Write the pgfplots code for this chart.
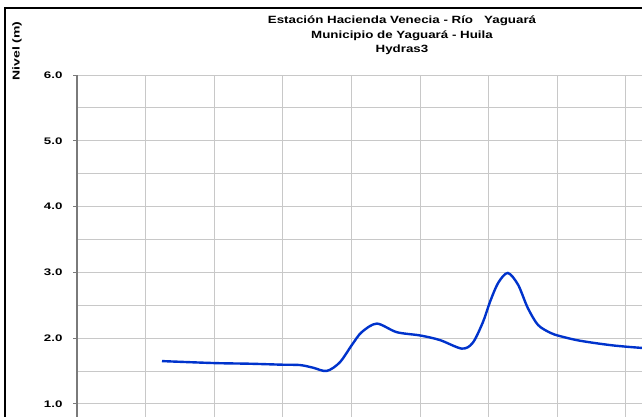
\documentclass[border=0pt]{standalone}
\usepackage{fontspec}
\setmainfont{Liberation Sans}
\usepackage{pgfplots}
\pgfplotsset{compat=1.18}
\definecolor{gridc}{HTML}{C8C8C8}
\definecolor{axc}{HTML}{7A7A7A}
\definecolor{linec}{HTML}{0033CC}
\begin{document}
\begin{tikzpicture}
\useasboundingbox (0,0) rectangle (642pt,417pt);
\begin{axis}[
  at={(77pt,0pt)}, anchor=south west,
  scale only axis, width=565pt, height=342pt,
  xmin=0, xmax=8.236, ymin=0.80, ymax=6.0,
  axis line style={draw=none},
  xtick={0,1,...,8}, xticklabels={}, x tick style={draw=none},
  ytick={1,2,...,6},
  minor ytick={0.5,1.5,...,5.5},
  grid=both,
  major grid style={gridc, line width=0.8pt},
  minor grid style={gridc, line width=0.8pt},
  ytick pos=left, tick align=outside,
  major tick length=4pt, minor tick length=0pt,
  y tick style={axc, line width=0.8pt},
  yticklabel style={font=\fontsize{9.5}{11}\selectfont\bfseries, xscale=1.4, /pgf/number format/fixed, /pgf/number format/fixed zerofill, /pgf/number format/precision=1, xshift=-4pt},
  /pgf/number format/assume math mode=true,
  clip=true,
]
\addplot[linec, line width=2.4pt, smooth, tension=0.5] coordinates {
(1.239,1.65) (2.0,1.62) (2.52,1.61) (3.0,1.595) (3.25,1.59) (3.44,1.55)
(3.64,1.50) (3.83,1.63) (4.01,1.90) (4.15,2.09) (4.37,2.22) (4.66,2.09)
(5.0,2.04) (5.29,1.97) (5.61,1.84) (5.77,1.93) (5.92,2.25) (6.02,2.55)
(6.14,2.84) (6.28,2.99) (6.43,2.81) (6.57,2.46) (6.72,2.20) (6.90,2.08)
(7.04,2.03) (7.33,1.96) (7.8,1.89) (8.24,1.85) (8.5,1.84)
};
\end{axis}
\draw[axc, line width=1.2pt] (77pt,0pt) -- (77pt,342pt);
\draw[black, line width=2pt] (5pt,0pt) -- (5pt,409pt);
\draw[black, line width=2pt] (4pt,409pt) -- (642pt,409pt);
\node[rotate=90, xscale=1.4, font=\fontsize{10}{12}\selectfont\bfseries] at (17pt,366pt) {Nivel (m)};
\node[anchor=base, xscale=1.27, font=\fontsize{10.5}{12}\selectfont\bfseries] at (402pt,393pt) {Estación Hacienda  Venecia - Río \ \ Yaguará};
\node[anchor=base, xscale=1.27, font=\fontsize{10.5}{12}\selectfont\bfseries] at (402pt,378pt) {Municipio de Yaguará - Huila};
\node[anchor=base, xscale=1.27, font=\fontsize{10.5}{12}\selectfont\bfseries] at (402pt,364pt) {Hydras3};
\end{tikzpicture}
\end{document}
